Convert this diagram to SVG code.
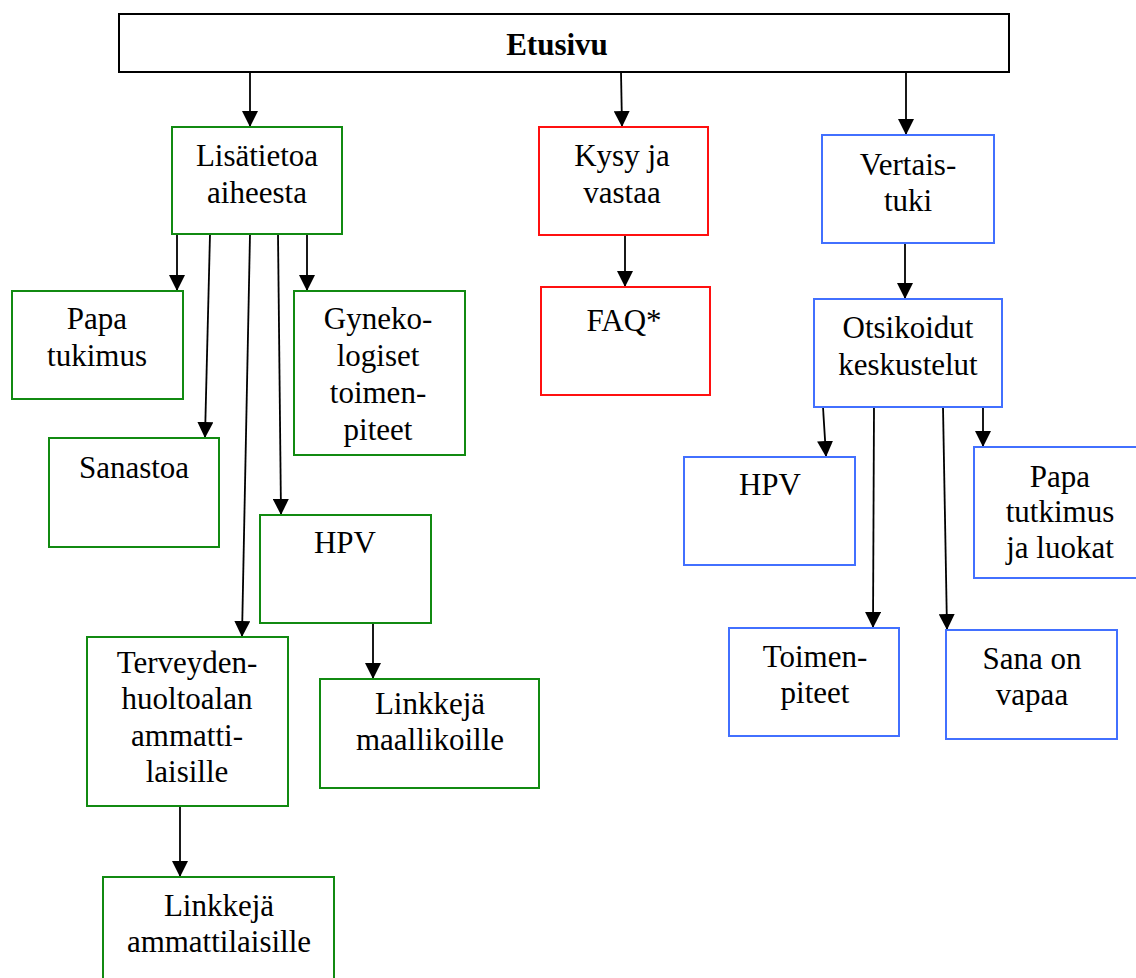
<svg xmlns="http://www.w3.org/2000/svg" width="1136" height="978" viewBox="0 0 1136 978">
<style>
.box{fill:#fff;stroke-width:2}
.g{stroke:#118a11}
.r{stroke:#ff1010}
.b{stroke:#4270ff}
.k{stroke:#000}
text{font-family:"Liberation Serif","Times New Roman",serif;font-size:31px;fill:#000;text-anchor:middle}
.bold{font-weight:bold}
.c{stroke:#000;stroke-width:1.8;fill:none;marker-end:url(#ah)}
</style>
<defs>
<marker id="ah" markerUnits="userSpaceOnUse" markerWidth="16" markerHeight="16" viewBox="0 0 16 16" refX="15" refY="8" orient="auto">
<path d="M0,0 L16,8 L0,16 Z" fill="#000"/>
</marker>
</defs>
<rect width="1136" height="978" fill="#fff"/>
<g id="connectors">
<line class="c" x1="250" y1="72" x2="250" y2="126"/>
<line class="c" x1="621" y1="72" x2="622" y2="126"/>
<line class="c" x1="906" y1="72" x2="906" y2="134"/>
<line class="c" x1="177" y1="234" x2="177" y2="290"/>
<line class="c" x1="210" y1="234" x2="205" y2="437"/>
<line class="c" x1="250" y1="234" x2="242" y2="636"/>
<line class="c" x1="278" y1="234" x2="281" y2="514"/>
<line class="c" x1="307" y1="234" x2="307" y2="290"/>
<line class="c" x1="625" y1="235" x2="625" y2="286"/>
<line class="c" x1="905" y1="243" x2="905" y2="298"/>
<line class="c" x1="823" y1="407" x2="826" y2="456"/>
<line class="c" x1="874" y1="407" x2="873" y2="627"/>
<line class="c" x1="943" y1="407" x2="947" y2="629"/>
<line class="c" x1="983" y1="407" x2="983" y2="446"/>
<line class="c" x1="373" y1="623" x2="373" y2="678"/>
<line class="c" x1="180" y1="806" x2="180" y2="876"/>
</g>
<g id="etusivu"><rect class="box k" x="119" y="14" width="890" height="58"/><text class="bold" x="557" y="55">Etusivu</text></g>
<g id="lisatietoa"><rect class="box g" x="172" y="127" width="170" height="107"/><text x="257" y="166">Lisätietoa</text><text x="257" y="203">aiheesta</text></g>
<g id="kysy"><rect class="box r" x="539" y="127" width="169" height="108"/><text x="622" y="166">Kysy ja</text><text x="622" y="203">vastaa</text></g>
<g id="faq"><rect class="box r" x="541" y="287" width="169" height="108"/><text x="624" y="331">FAQ*</text></g>
<g id="vertaistuki"><rect class="box b" x="822" y="135" width="172" height="108"/><text x="908" y="175">Vertais-</text><text x="908" y="211">tuki</text></g>
<g id="otsikoidut"><rect class="box b" x="814" y="299" width="188" height="108"/><text x="908" y="338">Otsikoidut</text><text x="908" y="375">keskustelut</text></g>
<g id="papa-tukimus"><rect class="box g" x="12" y="291" width="171" height="108"/><text x="97" y="329">Papa</text><text x="97" y="366">tukimus</text></g>
<g id="gyneko"><rect class="box g" x="294" y="291" width="171" height="164"/><text x="378" y="329">Gyneko-</text><text x="378" y="366">logiset</text><text x="378" y="403">toimen-</text><text x="378" y="440">piteet</text></g>
<g id="sanastoa"><rect class="box g" x="49" y="438" width="170" height="109"/><text x="134" y="478">Sanastoa</text></g>
<g id="hpv-green"><rect class="box g" x="260" y="515" width="171" height="108"/><text x="345" y="553">HPV</text></g>
<g id="terveyden"><rect class="box g" x="87" y="637" width="201" height="169"/><text x="187" y="673">Terveyden-</text><text x="187" y="709">huoltoalan</text><text x="187" y="746">ammatti-</text><text x="187" y="782">laisille</text></g>
<g id="linkkeja-maallikoille"><rect class="box g" x="320" y="679" width="219" height="109"/><text x="430" y="714">Linkkejä</text><text x="430" y="750">maallikoille</text></g>
<g id="linkkeja-ammattilaisille"><rect class="box g" x="103" y="877" width="231" height="110"/><text x="219" y="916">Linkkejä</text><text x="219" y="952">ammattilaisille</text></g>
<g id="hpv-blue"><rect class="box b" x="684" y="457" width="171" height="108"/><text x="770" y="495">HPV</text></g>
<g id="papa-tutkimus"><rect class="box b" x="974" y="447" width="170" height="131"/><text x="1060" y="487">Papa</text><text x="1060" y="522">tutkimus</text><text x="1060" y="558">ja luokat</text></g>
<g id="toimenpiteet"><rect class="box b" x="729" y="628" width="170" height="108"/><text x="815" y="667">Toimen-</text><text x="815" y="703">piteet</text></g>
<g id="sana-on-vapaa"><rect class="box b" x="946" y="630" width="171" height="109"/><text x="1032" y="669">Sana on</text><text x="1032" y="705">vapaa</text></g>
</svg>
